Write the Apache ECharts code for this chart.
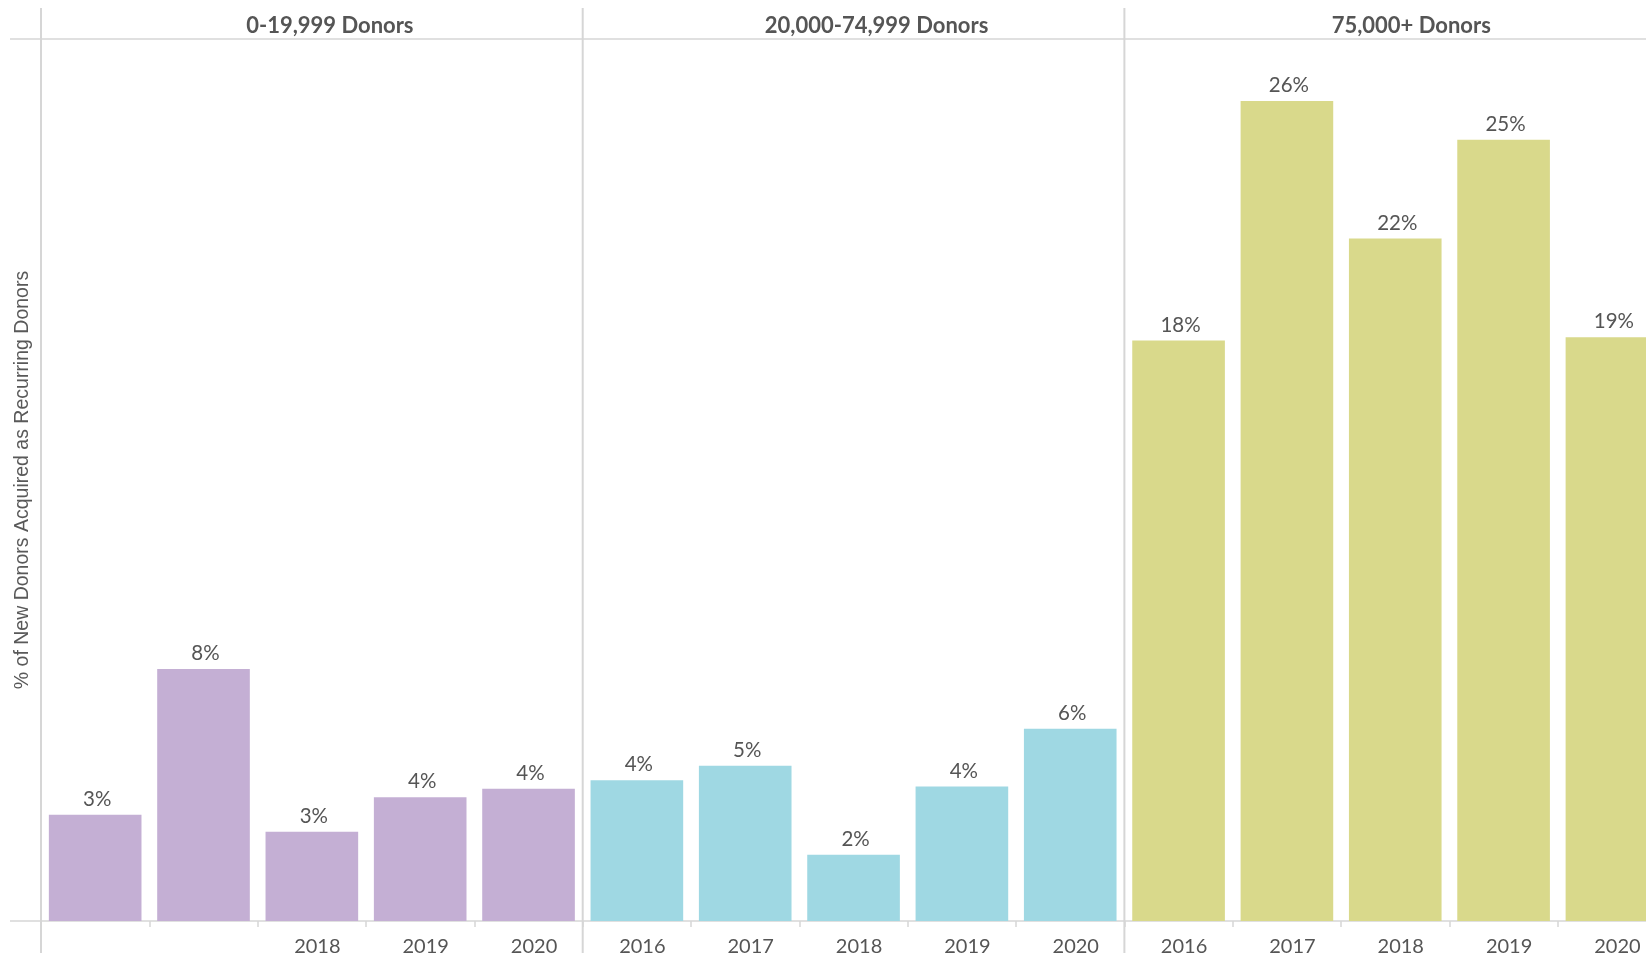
<!DOCTYPE html>
<html>
<head>
<meta charset="utf-8">
<style>
  html, body { margin: 0; padding: 0; background: #ffffff; overflow: hidden; }
  /* the third panel runs past the right edge of the window */
  #chart { width: 1700px; height: 957px; }
</style>
<script src="https://cdn.jsdelivr.net/npm/echarts@6/dist/echarts.min.js"></script>
</head>
<body>
<div id="chart"></div>
<script>
// Share of new donors acquired as recurring donors, by organisation size and year
const panelNames = ['0-19,999 Donors', '20,000-74,999 Donors', '75,000+ Donors'];
const years = ['2016', '2017', '2018', '2019', '2020'];
const yearLabelsSmall = ['', '', '2018', '2019', '2020'];
const valuesSmall = [3.37, 8.0, 2.83, 3.93, 4.2];
const valuesMid = [4.47, 4.93, 2.1, 4.27, 6.1];
const valuesLarge = [18.43, 26.03, 21.67, 24.8, 18.53];
const panelColors = ['#c4afd4', '#9fd8e3', '#d9d98b'];

// layout of the three side-by-side panels
const plotTop = 39, plotBottom = 921, plotLeft = 41, panelWidth = 541.7;
const headerShift = [36, 46, 32];
const lineGrey = '#d6d6d6', textGrey = '#555555';

const panelValues = [valuesSmall, valuesMid, valuesLarge];
const panelLabels = [yearLabelsSmall, years, years];

const grids = [], xAxes = [], yAxes = [], series = [], graphics = [];

panelValues.forEach((vals, i) => {
  grids.push({
    left: plotLeft + i * panelWidth,
    top: plotTop,
    width: panelWidth,
    height: plotBottom - plotTop,
    containLabel: false
  });
  // year axis along the bottom
  xAxes.push({
    type: 'category',
    gridIndex: i,
    data: panelLabels[i],
    position: 'bottom',
    axisLine: { show: true, lineStyle: { color: lineGrey, width: 1.5 } },
    axisTick: { show: true, length: 6, lineStyle: { color: lineGrey, width: 1.5 } },
    axisLabel: {
      color: textGrey, fontFamily: 'Lato', fontSize: 20, margin: 16,
      padding: [0, 0, 0, 11]
    },
    splitLine: { show: false }
  });
  // panel header along the top
  xAxes.push({
    type: 'category',
    gridIndex: i,
    data: [panelNames[i]],
    position: 'top',
    axisLine: { show: true, lineStyle: { color: lineGrey, width: 1.5 } },
    axisTick: { show: false },
    axisLabel: {
      color: textGrey, fontFamily: 'Lato', fontWeight: 'bold', fontSize: 22, margin: 2,
      padding: [0, 0, 0, headerShift[i]]
    }
  });
  yAxes.push({
    type: 'value',
    gridIndex: i,
    min: 0,
    max: 28,
    show: i === 0,
    name: i === 0 ? '% of New Donors Acquired as Recurring Donors' : '',
    nameLocation: 'middle',
    nameGap: 8,
    nameTextStyle: { color: '#595959', fontFamily: 'Liberation Sans', fontSize: 19.5 },
    axisLine: { show: false },
    axisTick: { show: false },
    axisLabel: { show: false },
    splitLine: { show: false }
  });
  series.push({
    type: 'bar',
    xAxisIndex: i * 2,
    yAxisIndex: i,
    data: vals,
    barCategoryGap: '14.5%',
    itemStyle: { color: panelColors[i] },
    label: {
      show: true,
      position: 'top',
      distance: 5,
      color: textGrey,
      fontFamily: 'Lato',
      fontSize: 20.5,
      padding: [0, 0, 0, 4],
      formatter: p => Math.round(p.value) + '%'
    },
    silent: true,
    animation: false
  });
});

// panel dividers running past the plot area, and the extended frame rules
for (let i = 0; i < 3; i++) {
  const x = plotLeft + i * panelWidth;
  graphics.push({
    type: 'line', silent: true,
    shape: { x1: x, y1: 8, x2: x, y2: 953 },
    style: { stroke: lineGrey, lineWidth: 2 }
  });
}
[plotTop, plotBottom].forEach(y => {
  graphics.push({
    type: 'line', silent: true,
    shape: { x1: 10, y1: y, x2: plotLeft, y2: y },
    style: { stroke: lineGrey, lineWidth: 1.5 }
  });
});

const chart = echarts.init(document.getElementById('chart'), null, { renderer: 'canvas' });
chart.setOption({
  backgroundColor: '#ffffff',
  animation: false,
  grid: grids,
  xAxis: xAxes,
  yAxis: yAxes,
  series: series,
  graphic: graphics
});
</script>
</body>
</html>
